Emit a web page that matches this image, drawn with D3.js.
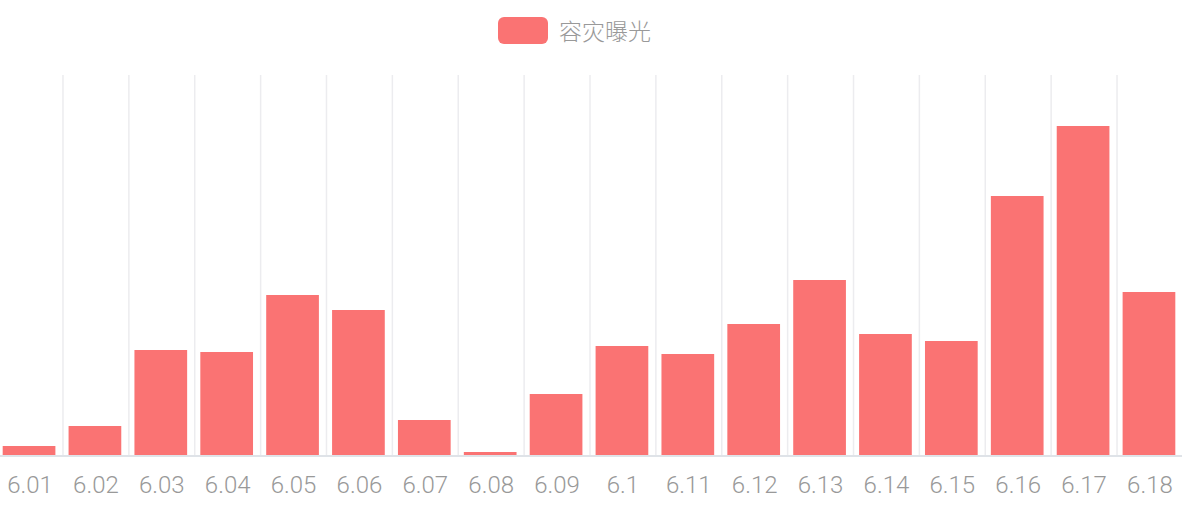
<!DOCTYPE html>
<html><head><meta charset="utf-8">
<script src="https://cdn.jsdelivr.net/npm/d3@7/dist/d3.min.js"></script>
<style>
html,body{margin:0;padding:0;background:#fff;}
svg{display:block;}
</style></head>
<body>
<svg id="chart" width="1182" height="512"></svg>
<script>
const categories = ["6.01","6.02","6.03","6.04","6.05","6.06","6.07","6.08","6.09","6.1","6.11","6.12","6.13","6.14","6.15","6.16","6.17","6.18"];
const values = [10, 30, 106, 104, 161, 146, 36, 4, 62, 110, 102, 132, 176, 122, 115, 260, 330, 164];
const seriesName = "容灾曝光";
const yMax = 381;

const W = 1182, H = 512;
const plot = {left: -2.9, right: 1182.9, top: 75, bottom: 456};
const color = "#fa7373";
const svg = d3.select("#chart");

const x = d3.scaleBand().domain(categories).range([plot.left, plot.right]).padding(0);
const y = d3.scaleLinear().domain([0, yMax]).range([plot.bottom, plot.top]);

// vertical grid lines at band boundaries
svg.append("g").selectAll("line").data(categories.slice(1)).join("line")
  .attr("x1", d => x(d)).attr("x2", d => x(d))
  .attr("y1", plot.top).attr("y2", plot.bottom)
  .attr("stroke", "#ececef").attr("stroke-width", 1.5);

// bars
const bw = x.bandwidth() * 0.8;
svg.append("g").selectAll("rect").data(categories).join("rect")
  .attr("x", (d) => x(d) + (x.bandwidth() - bw) / 2 - 1)
  .attr("width", bw)
  .attr("y", (d, i) => y(values[i]))
  .attr("height", (d, i) => y(0) - y(values[i]))
  .attr("fill", color);

// x axis
const xAxis = d3.axisBottom(x).tickSize(0).tickPadding(0);
const gx = svg.append("g").attr("transform", `translate(0,${plot.bottom})`).call(xAxis);
gx.select(".domain").attr("stroke", "#dfe3e8").attr("stroke-width", 2).attr("d", `M0,0H${W}`);
gx.selectAll("text")
  .attr("y", 37).attr("dy", null)
  .attr("fill", "#999")
  .attr("font-family", "Roboto, 'Liberation Sans', sans-serif")
  .attr("font-weight", 300)
  .attr("font-size", 24);

// legend
const lg = svg.append("g");
lg.append("rect").attr("x", 498).attr("y", 17).attr("width", 50).attr("height", 27)
  .attr("rx", 6).attr("fill", color);
lg.append("text").attr("x", 559).attr("y", 40)
  .attr("fill", "#999")
  .attr("font-family", "'Noto Sans CJK SC', sans-serif")
  .attr("font-weight", 300)
  .attr("font-size", 23)
  .text(seriesName);
</script>
</body></html>
